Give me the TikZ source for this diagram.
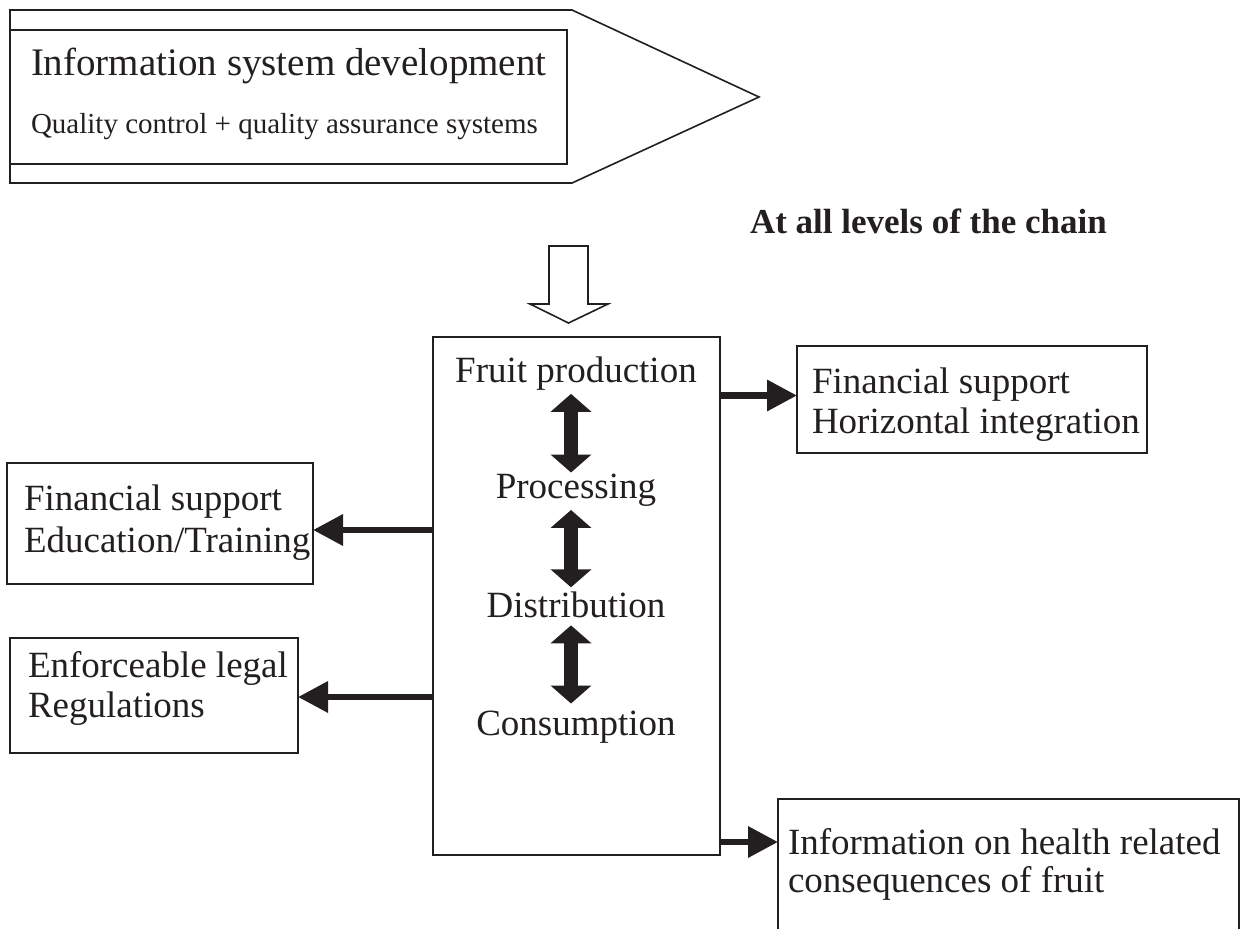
\documentclass[tikz,border=0pt]{standalone}
\usepackage{fontspec}
\setmainfont{Liberation Serif}
\usepackage{xcolor}
\usetikzlibrary{arrows.meta,positioning,calc}
\definecolor{ink}{RGB}{35,31,32}

\begin{document}
\begin{tikzpicture}[
  x=1pt, y=-1pt,
  every node/.style={inner sep=0pt, outer sep=0pt, text=ink},
  frame/.style={draw=ink, line width=1.6pt, anchor=north west},
  lbl/.style={anchor=base west, font=\fontsize{37}{40}\selectfont},
  stage/.style={anchor=base, font=\fontsize{37}{40}\selectfont},
  flow/.style={-{Triangle[length=30pt,width=30pt]}, line width=6.5pt, draw=ink},
  link/.style={{Triangle[length=18pt,width=40pt]}-{Triangle[length=18pt,width=40pt]},
    line width=14pt, draw=ink}
]
\useasboundingbox (0,0) rectangle (1245,929);

% banner
\draw[ink, line width=1.6pt] (10,10) -- (572,10) -- (759,97) -- (572,183) -- (10,183) -- cycle;
\node[frame, minimum width=557pt, minimum height=134pt] (isd) at (10,30) {};
\node[anchor=base west, font=\fontsize{39}{42}\selectfont] (isd-title) at (31,75) {Information system development};
\node[anchor=base west, font=\fontsize{29}{32}\selectfont] (isd-sub) at (31,133) {Quality control + quality assurance systems};
\node[anchor=base west, font=\bfseries\fontsize{35}{38}\selectfont] (levels) at (750,233) {At all levels of the chain};

% hollow arrow into the chain
\draw[ink, line width=1.6pt, fill=white] (549,246) -- (588,246) -- (588,304) -- (608,304)
  -- (568.5,323) -- (530,304) -- (549,304) -- cycle;

% chain
\node[frame, minimum width=287pt, minimum height=518pt] (main) at (433,337) {};
\node[stage] (prod) at (576,382) {Fruit production};
\node[stage] (proc) at (576,498) {Processing};
\node[stage] (dist) at (576,617) {Distribution};
\node[stage] (cons) at (576,735) {Consumption};
\draw[link] ($(prod.south)+(-5,4)$) -- ($(proc.north)+(-5,-1)$);
\draw[link] ($(proc.south)+(-5,4)$) -- ($(dist.north)+(-5,-4)$);
\draw[link] ($(dist.south)+(-5,8)$) -- ($(cons.north)+(-5,-7)$);

% side boxes
\node[frame, minimum width=350pt, minimum height=107pt] (fin) at (797,346) {};
\node[lbl] (fin-a) at (812,393) {Financial support};
\node[lbl] (fin-b) at (812,433) {Horizontal integration};

\node[frame, minimum width=306pt, minimum height=121pt] (edu) at (7,463) {};
\node[lbl] (edu-a) at (24,510) {Financial support};
\node[lbl] (edu-b) at (24,552) {Education/Training};

\node[frame, minimum width=288pt, minimum height=115pt] (law) at (10,638) {};
\node[lbl] (law-a) at (28,677) {Enforceable legal};
\node[lbl] (law-b) at (28,717) {Regulations};

\node[frame, minimum width=461pt, minimum height=170pt] (health) at (778,799) {};
\node[lbl] (health-a) at (788,854) {Information on health related};
\node[lbl] (health-b) at (788,892) {consequences of fruit};

% connectors
\coordinate (f1) at ($(fin.west)+(0,-4)$);
\coordinate (e1) at ($(edu.east)+(0,6.5)$);
\coordinate (l1) at ($(law.east)+(0,1.5)$);
\coordinate (h1) at ($(health.north west)+(0,43)$);
\draw[flow] (f1 -| main.east) -- (f1);
\draw[flow] (e1 -| main.west) -- (e1);
\draw[flow] (l1 -| main.west) -- (l1);
\draw[flow] (h1 -| main.east) -- (h1);
\end{tikzpicture}
\end{document}
